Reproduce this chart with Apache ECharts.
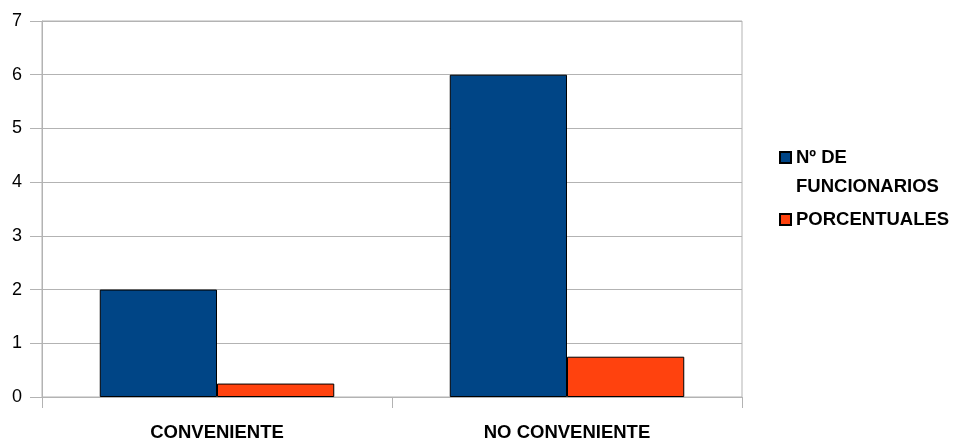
<!DOCTYPE html>
<html>
<head>
<meta charset="utf-8">
<script src="https://cdn.jsdelivr.net/npm/echarts@6/dist/echarts.min.js"></script>
<style>html,body{margin:0;padding:0;background:#fff}#c{width:958px;height:442px}</style>
</head>
<body>
<div id="c"></div>
<script>
var categories = ['CONVENIENTE', 'NO CONVENIENTE'];
var seriesNames = ['Nº DE FUNCIONARIOS', 'PORCENTUALES'];
var funcionarios = [2, 6];
var porcentuales = [0.25, 0.75];
var yTicks = [0, 1, 2, 3, 4, 5, 6, 7];

var chart = echarts.init(document.getElementById('c'));
var font = 'Liberation Sans, Arial, sans-serif';
var grayLine = '#b3b3b3';
chart.setOption({
  animation: false,
  textStyle: { fontFamily: font },
  grid: { left: 42, right: 216, top: 21, bottom: 43, show: true, borderColor: grayLine, borderWidth: 1, backgroundColor: 'transparent' },
  legend: [{
    orient: 'vertical', left: 774, top: 138,
    data: [{ name: seriesNames[0], icon: 'path://M0,0H11V11H0Z M0,40' }],
    itemWidth: 11, itemHeight: 40, itemGap: 0,
    formatter: function () { return 'Nº DE\nFUNCIONARIOS'; },
    textStyle: { fontFamily: font, fontWeight: 'bold', fontSize: 18.5, color: '#000', lineHeight: 29 },
    selectedMode: false
  }, {
    orient: 'vertical', left: 774, top: 205,
    data: [{ name: seriesNames[1], icon: 'rect' }],
    itemWidth: 11, itemHeight: 11,
    textStyle: { fontFamily: font, fontWeight: 'bold', fontSize: 18.5, color: '#000' },
    selectedMode: false
  }],
  xAxis: {
    type: 'category', data: categories,
    axisLine: { show: true, lineStyle: { color: grayLine } },
    axisTick: { show: true, length: 11, lineStyle: { color: grayLine } },
    axisLabel: { color: '#000', fontWeight: 'bold', fontSize: 18.5, margin: 26, fontFamily: font },
    splitLine: { show: false }
  },
  yAxis: {
    type: 'value', min: yTicks[0], max: yTicks[yTicks.length - 1], interval: 1,
    axisLine: { show: true, lineStyle: { color: grayLine } },
    axisTick: { show: true, length: 12, lineStyle: { color: grayLine } },
    axisLabel: { color: '#000', fontSize: 18, margin: 20, fontFamily: font },
    splitLine: { show: true, lineStyle: { color: grayLine } }
  },
  series: [{
    name: seriesNames[0], type: 'bar', data: funcionarios,
    barGap: '0%', barCategoryGap: '33%',
    itemStyle: { color: '#004586', borderColor: '#000', borderWidth: 1 }
  }, {
    name: seriesNames[1], type: 'bar', data: porcentuales,
    itemStyle: { color: '#ff420e', borderColor: '#000', borderWidth: 1 }
  }]
});
</script>
</body>
</html>
